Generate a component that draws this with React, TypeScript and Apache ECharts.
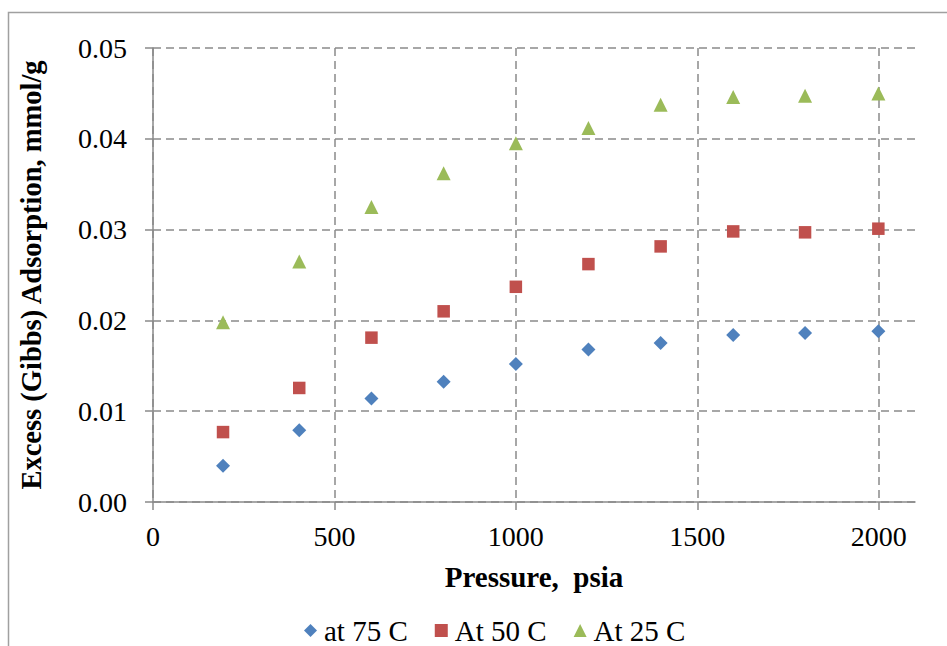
import React, { useEffect, useRef } from "react";
import * as echarts from "echarts";

const pressures = [193, 403, 602, 801, 1000, 1200, 1399, 1599, 1797, 1999];
const at75C = [0.004, 0.0079, 0.0114, 0.01325, 0.0152, 0.0168, 0.0175, 0.0184, 0.0186, 0.0188];
const at50C = [0.0077, 0.01256, 0.0181, 0.021, 0.0237, 0.0262, 0.02815, 0.0298, 0.0297, 0.0301];
const at25C = [0.0198, 0.0265, 0.0325, 0.0362, 0.0395, 0.0412, 0.04375, 0.0446, 0.04475, 0.045];
const xTicks = [0, 500, 1000, 1500, 2000];
const seriesNames = ["at 75 C", "At 50 C", "At 25 C"];
const seriesColors = ["#4F81BD", "#C0504D", "#9BBB59"];
const seriesSymbols = ["diamond", "rect", "triangle"];
const seriesSizes = [14, 12.5, 14];

const FONT = "Liberation Serif, Times New Roman, serif";
const GRID = "#8a8a8a";

export default function App() {
  const ref = useRef<HTMLDivElement>(null);
  useEffect(() => {
    if (!ref.current) return;
    const chart = echarts.init(ref.current, null, { renderer: "svg" });
    const values = [at75C, at50C, at25C];
    chart.setOption({
      animation: false,
      backgroundColor: "#ffffff",
      textStyle: { fontFamily: FONT, color: "#000" },
      graphic: [
        {
          type: "rect",
          shape: { x: 8.5, y: 12.5, width: 1000, height: 1000 },
          style: { fill: "none", stroke: "#a0a0a0", lineWidth: 1.5 },
          silent: true,
          z: 0,
        },
      ],
      grid: { left: 153, top: 48, right: 32, bottom: 144, containLabel: false },
      legend: {
        left: 299,
        top: 611,
        itemWidth: 13,
        itemHeight: 13,
        itemGap: 27,
        textStyle: {
          fontFamily: FONT,
          fontSize: 29,
          lineHeight: 29,
          color: "#000",
          padding: [0, 0, 0, 2],
        },
        data: seriesNames.map((n, i) => ({ name: n, icon: seriesSymbols[i] })),
      },
      xAxis: {
        type: "value",
        min: 0,
        max: 2100,
        interval: 500,
        name: "Pressure,  psia",
        nameLocation: "middle",
        nameGap: 60,
        nameTextStyle: { fontFamily: FONT, fontSize: 29, fontWeight: "bold", color: "#000" },
        axisLine: { show: true, lineStyle: { color: GRID, width: 1.5 } },
        axisTick: { show: true, length: 8, customValues: xTicks, lineStyle: { color: GRID, width: 1.5 } },
        axisLabel: {
          customValues: xTicks,
          margin: 20,
          fontFamily: FONT,
          fontSize: 28,
          color: "#000",
          formatter: (v: number) => String(v),
        },
        splitLine: { show: true, lineStyle: { color: GRID, width: 1.5, type: [8, 5] } },
      },
      yAxis: {
        type: "value",
        min: 0,
        max: 0.05,
        interval: 0.01,
        name: "Excess (Gibbs) Adsorption, mmol/g",
        nameLocation: "middle",
        nameGap: 107,
        nameTextStyle: { fontFamily: FONT, fontSize: 28.5, fontWeight: "bold", color: "#000" },
        axisLine: { show: true, lineStyle: { color: GRID, width: 1.5 } },
        axisTick: { show: true, length: 8, lineStyle: { color: GRID, width: 1.5 } },
        axisLabel: {
          margin: 26,
          fontFamily: FONT,
          fontSize: 28,
          color: "#000",
          formatter: (v: number) => v.toFixed(2),
        },
        splitLine: { show: true, lineStyle: { color: GRID, width: 1.5, type: [8, 5] } },
      },
      series: seriesNames.map((n, i) => ({
        name: n,
        type: "scatter",
        symbol: seriesSymbols[i],
        symbolSize: seriesSizes[i],
        itemStyle: { color: seriesColors[i], opacity: 1 },
        data: pressures.map((p, j) => [p, values[i][j]]),
        z: 3,
      })),
    });
    return () => chart.dispose();
  }, []);
  return (
    <div
      ref={ref}
      style={{ position: "fixed", left: 0, top: 0, width: 947, height: 646 }}
    />
  );
}
